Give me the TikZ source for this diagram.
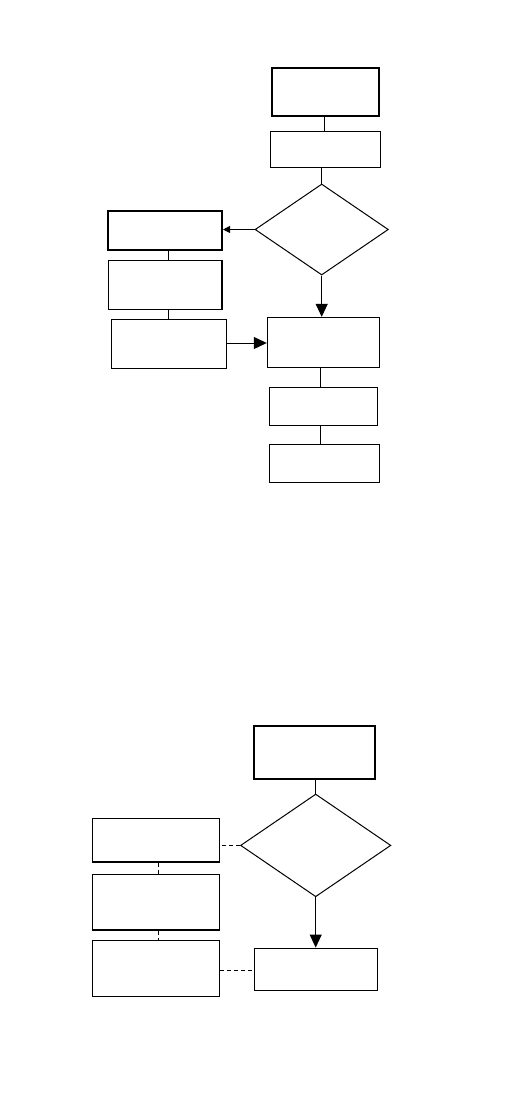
\documentclass[tikz,border=0pt]{standalone}
\usepackage{tikz}
\usetikzlibrary{shapes.geometric,arrows.meta}
\tikzset{
    block/.style={
           rectangle,
           draw=black, line width=1pt,
           inner sep=0pt,
           text centered,
           },
    heavy/.style={
           block,
           line width=2pt,
           },
    decision/.style={
           diamond,
           draw=black, line width=1pt,
           inner sep=0pt,
           },
    link/.style={line width=1pt},
    dashlink/.style={line width=1pt, dash pattern=on 4pt off 3pt},
    bighead/.style={line width=1pt, -{Triangle[length=13pt,width=12pt]}},
    smallhead/.style={line width=1pt, -{Triangle[length=7pt,width=7pt]}},
}

\begin{document}
\begin{tikzpicture}[x=1pt,y=-1pt]
    \useasboundingbox (0,0) rectangle (510,1106);

    % upper chart
    \node[heavy,  	% layout (defined above)
    minimum width=107.6pt, minimum height=47.4pt,
    anchor=center] (start) at (325.5,92) {};

    \node[block, minimum width=110pt, minimum height=36.3pt,
    anchor=center] (prep) at (325.3,149.2) {};

    \node[decision, minimum width=133.3pt, minimum height=91pt,
    anchor=center] (check) at (321.7,229.5) {};

    \node[heavy, minimum width=113.7pt, minimum height=39.3pt,
    anchor=center] (sideA) at (165.2,230.3) {};

    \node[block, line width=1.5pt, minimum width=113.7pt, minimum height=49pt,
    anchor=center] (sideB) at (165.2,284.8) {};

    \node[block, minimum width=115pt, minimum height=49pt,
    anchor=center] (sideC) at (168.8,343.8) {};

    \node[block, minimum width=112pt, minimum height=49.7pt,
    anchor=center] (merge) at (323.3,342.2) {};

    \node[block, minimum width=108pt, minimum height=38pt,
    anchor=center] (stepA) at (323.3,406.3) {};

    \node[block, minimum width=110pt, minimum height=38pt,
    anchor=center] (stepB) at (324.3,463.3) {};

    % draw the paths of the upper chart
    \draw[link] (start.south -| 324.3,0) -- (prep.north -| 324.3,0);
    \draw[link] (check.north) -- (check.north |- prep.south);
    \draw[link] (sideA.south -| 168.3,0) -- (sideB.north -| 168.3,0);
    \draw[link] (sideB.south -| 168.3,0) -- (sideC.north -| 168.3,0);
    \draw[link] (merge.south -| 320.3,0) -- (stepA.north -| 320.3,0);
    \draw[link] (stepA.south -| 320.3,0) -- (stepB.north -| 320.3,0);
    \path
        (check.west) edge[smallhead] (check.west -| sideA.east)
        (check.south) edge[bighead] (check.south |- merge.north)
        (sideC.east |- 0,343) edge[bighead] (merge.west |- 0,343);

    % lower chart
    \node[heavy, minimum width=121pt, minimum height=53pt,
    anchor=center] (entry) at (314.8,752.2) {};

    \node[decision, minimum width=150.3pt, minimum height=102.7pt,
    anchor=center] (test) at (315.7,845.4) {};

    \node[block, line width=1.6pt, minimum width=127pt, minimum height=43.3pt,
    anchor=center] (optA) at (155.8,840.3) {};

    \node[block, line width=1.6pt, minimum width=127pt, minimum height=55.7pt,
    anchor=center] (optB) at (155.8,902.2) {};

    \node[block, minimum width=127pt, minimum height=55.7pt,
    anchor=center] (optC) at (155.8,968.2) {};

    \node[block, minimum width=122.7pt, minimum height=42.3pt,
    anchor=center] (result) at (315.7,969.2) {};

    % draw the paths of the lower chart
    \draw[link] (entry.south -| test.north) -- (test.north);
    \draw[dashlink] (test.west) -- (test.west -| optA.east);
    \draw[dashlink] (optA.south -| 158.3,0) -- (optB.north -| 158.3,0);
    \draw[dashlink] (optB.south -| 158.3,0) -- (optC.north -| 158.3,0);
    \draw[dashlink] (optC.east |- 0,970) -- (result.west |- 0,970);
    \path (test.south) edge[bighead] (result.north);
\end{tikzpicture}
\end{document}
